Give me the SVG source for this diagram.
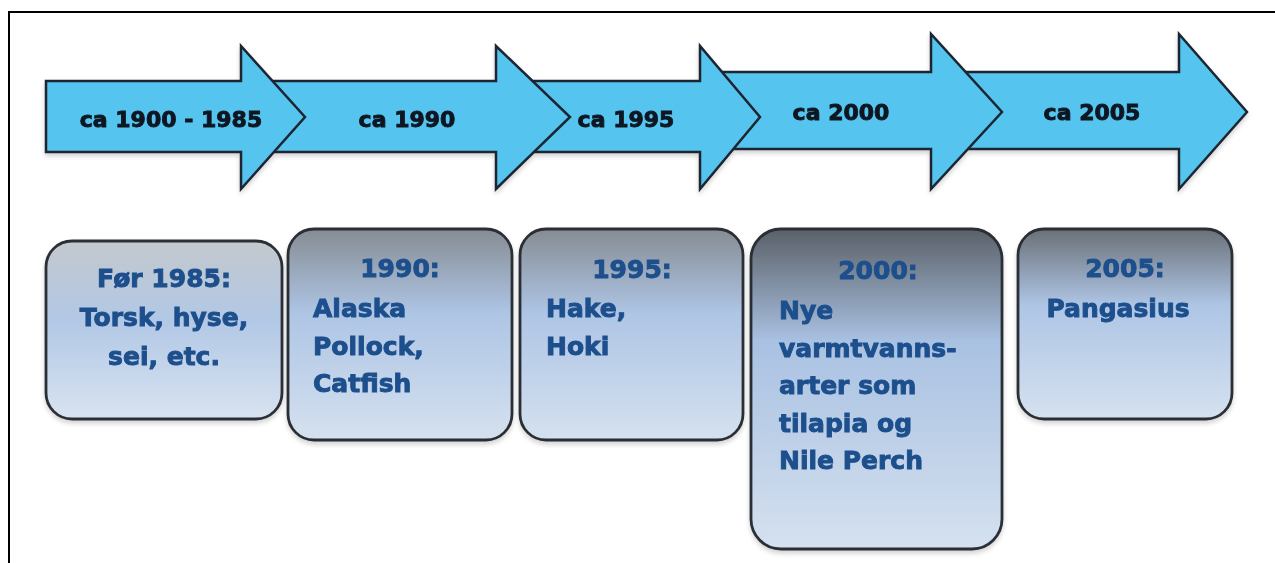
<svg xmlns="http://www.w3.org/2000/svg" width="1275" height="563" viewBox="0 0 1275 563">
<defs>
<style>
.arrow{fill:#55c4ef;stroke:#1b2530;stroke-width:2.5;stroke-linejoin:miter}
.box{stroke:#2b2f36;stroke-width:2.8}
.at{font-family:"DejaVu Sans",Verdana,sans-serif;font-weight:bold;font-size:22px;fill:#0d1620;stroke:#0d1620;stroke-width:0.9;text-anchor:middle}
.bt{font-family:"DejaVu Sans",Verdana,sans-serif;font-weight:bold;font-size:25px;fill:#1c4f8c;stroke:#1c4f8c;stroke-width:0.9}
.c{text-anchor:middle}
</style>
<linearGradient id="g1" x1="0" y1="0" x2="0" y2="1">
<stop offset="0" stop-color="#c3c8cd"/><stop offset="0.45" stop-color="#b2c8e6"/><stop offset="1" stop-color="#d8e3f0"/>
</linearGradient>
<linearGradient id="g2" x1="0" y1="0" x2="0" y2="1">
<stop offset="0" stop-color="#868c93"/><stop offset="0.4" stop-color="#aec5e5"/><stop offset="1" stop-color="#d5e1ef"/>
</linearGradient>
<linearGradient id="g3" x1="0" y1="0" x2="0" y2="1">
<stop offset="0" stop-color="#5a6067"/><stop offset="0.35" stop-color="#a9c1e2"/><stop offset="1" stop-color="#d5e1ef"/>
</linearGradient>
<linearGradient id="g5" x1="0" y1="0" x2="0" y2="1">
<stop offset="0" stop-color="#6a7077"/><stop offset="0.4" stop-color="#aec5e5"/><stop offset="1" stop-color="#d5e1ef"/>
</linearGradient>
<filter id="sh" x="-10%" y="-10%" width="120%" height="130%">
<feGaussianBlur in="SourceAlpha" stdDeviation="2.5"/>
<feOffset dx="0" dy="3" result="b"/>
<feComponentTransfer><feFuncA type="linear" slope="0.18"/></feComponentTransfer>
<feMerge><feMergeNode/><feMergeNode in="SourceGraphic"/></feMerge>
</filter>
</defs>
<rect x="0" y="0" width="1275" height="563" fill="#ffffff"/>
<rect x="9" y="12" width="1290" height="620" fill="none" stroke="#000" stroke-width="2"/>

<g id="arrows" filter="url(#sh)">
<g id="arrow5"><polygon class="arrow" points="965,72 1179,72 1179,34 1247,112 1179,189 1179,149 965,149"/><text class="at" x="1092" y="120">ca 2005</text></g>
<g id="arrow4"><polygon class="arrow" points="715,72 931,72 931,34 1002,112 931,189 931,149 715,149"/><text class="at" x="841" y="120">ca 2000</text></g>
<g id="arrow3"><polygon class="arrow" points="520,81 700,81 700,46 760,117 700,189 700,152 520,152"/><text class="at" x="626" y="127">ca 1995</text></g>
<g id="arrow2"><polygon class="arrow" points="260,81 496,81 496,46 570,117 496,189 496,152 260,152"/><text class="at" x="407" y="127">ca 1990</text></g>
<g id="arrow1"><polygon class="arrow" points="46,81 241,81 241,46 305,117 241,189 241,152 46,152"/><text class="at" x="171" y="127">ca 1900 - 1985</text></g>
</g>

<g id="box1" filter="url(#sh)">
<rect class="box" x="46" y="241" width="236" height="178" rx="26" fill="url(#g1)"/>
<text class="bt c" x="164" y="287">Før 1985:</text>
<text class="bt c" x="164" y="326">Torsk, hyse,</text>
<text class="bt c" x="164" y="365">sei, etc.</text>
</g>
<g id="box2" filter="url(#sh)">
<rect class="box" x="288" y="229" width="224" height="211" rx="26" fill="url(#g2)"/>
<text class="bt c" x="400" y="277">1990:</text>
<text class="bt" x="313" y="317">Alaska</text>
<text class="bt" x="313" y="355">Pollock,</text>
<text class="bt" x="313" y="392">Catfish</text>
</g>
<g id="box3" filter="url(#sh)">
<rect class="box" x="520" y="229" width="223" height="211" rx="26" fill="url(#g2)"/>
<text class="bt c" x="632" y="278">1995:</text>
<text class="bt" x="546" y="317">Hake,</text>
<text class="bt" x="546" y="355">Hoki</text>
</g>
<g id="box4" filter="url(#sh)">
<rect class="box" x="751" y="229" width="251" height="320" rx="30" fill="url(#g3)"/>
<text class="bt c" x="878" y="279">2000:</text>
<text class="bt" x="779" y="319">Nye</text>
<text class="bt" x="779" y="357">varmtvanns-</text>
<text class="bt" x="779" y="394">arter som</text>
<text class="bt" x="779" y="432">tilapia og</text>
<text class="bt" x="779" y="469">Nile Perch</text>
</g>
<g id="box5" filter="url(#sh)">
<rect class="box" x="1018" y="229" width="214" height="190" rx="26" fill="url(#g5)"/>
<text class="bt c" x="1125" y="277">2005:</text>
<text class="bt c" x="1118" y="317">Pangasius</text>
</g>
</svg>
